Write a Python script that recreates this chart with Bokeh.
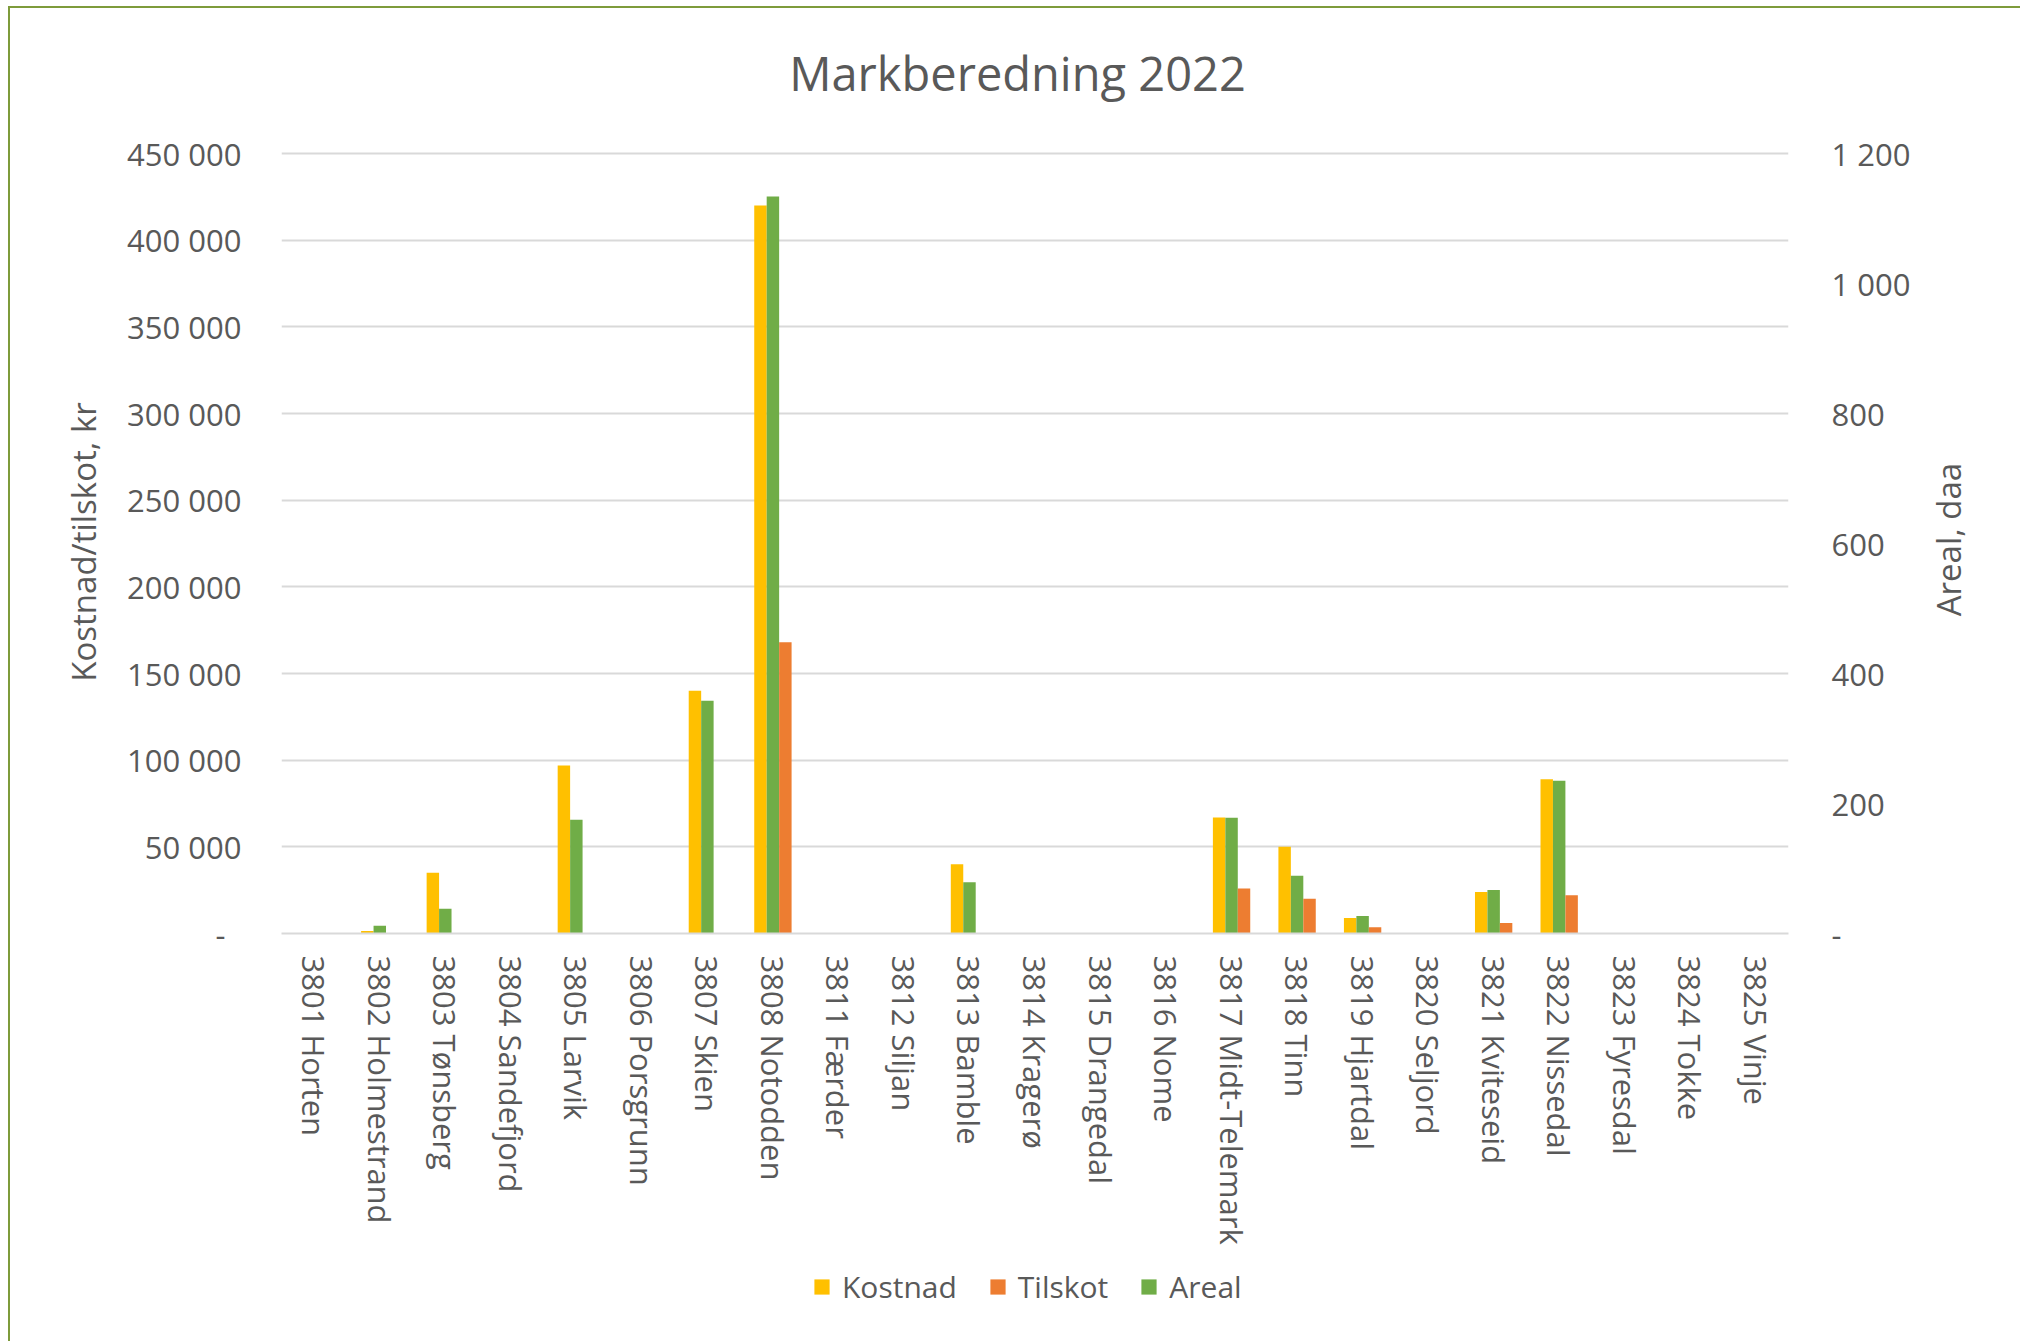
import math
from bokeh.plotting import figure
from bokeh.layouts import column
from bokeh.models import (Range1d, FactorRange, LinearAxis, FixedTicker, Legend,
                          LegendItem, ColumnDataSource, Label)
from bokeh.transform import dodge
from bokeh.embed import file_html
from bokeh.resources import INLINE

# ---------------- data ----------------
kommunar = ["3801 Horten", "3802 Holmestrand", "3803 Tønsberg", "3804 Sandefjord",
            "3805 Larvik", "3806 Porsgrunn", "3807 Skien", "3808 Notodden",
            "3811 Færder", "3812 Siljan", "3813 Bamble", "3814 Kragerø",
            "3815 Drangedal", "3816 Nome", "3817 Midt-Telemark", "3818 Tinn",
            "3819 Hjartdal", "3820 Seljord", "3821 Kviteseid", "3822 Nissedal",
            "3823 Fyresdal", "3824 Tokke", "3825 Vinje"]
kostnad = [0, 1500, 35000, 0, 97000, 0, 140000, 420000, 0, 0, 40000, 0,
           0, 0, 67000, 50000, 9000, 0, 24000, 89000, 0, 0, 0]
tilskot = [0, 0, 0, 0, 0, 0, 0, 168000, 0, 0, 0, 0,
           0, 0, 26000, 20000, 3600, 0, 6000, 22000, 0, 0, 0]
areal = [0, 12, 38, 0, 175, 0, 358, 1134, 0, 0, 79, 0,
         0, 0, 178, 89, 27, 0, 67, 235, 0, 0, 0]

left_ticks = [0, 50000, 100000, 150000, 200000, 250000, 300000, 350000, 400000, 450000]
left_tick_labels = ["-\u00a0\u00a0", "50 000", "100 000", "150 000", "200 000", "250 000",
                    "300 000", "350 000", "400 000", "450 000"]
right_ticks = [0, 200, 400, 600, 800, 1000, 1200]
right_tick_labels = ["-", "200", "400", "600", "800", "1 000", "1 200"]

series_names = ["Kostnad", "Tilskot", "Areal"]
title_text = "Markberedning 2022"
left_label = "Kostnad/tilskot, kr"
right_label = "Areal, daa"

# ---------------- style ----------------
FONT = "Open Sans"
TXT = "#595959"
GRID = "#d9d9d9"
YELLOW, ORANGE, GREEN = "#FFC000", "#ED7D31", "#70AD47"
WIDTH = 2010
HEADROOM = 1.004   # tiny room so the top gridline is not clipped by the frame edge


def strip(height):
    """A plain strip (no axes) whose frame fills the strip vertically."""
    s = figure(width=WIDTH, height=height, output_backend="svg", toolbar_location=None,
               x_axis_type=None, y_axis_type=None, x_range=Range1d(0, 1),
               y_range=Range1d(0, 1), min_border=0, title=None)
    s.outline_line_color = None
    s.grid.visible = False
    s.background_fill_color = "white"
    s.border_fill_color = "white"
    return s


# ---------------- title strip ----------------
top = strip(120)
top.add_layout(Label(x=736, y=56, x_units="screen", y_units="screen", text=title_text,
                     text_font=FONT, text_font_size="47px", text_color=TXT,
                     text_align="center", text_baseline="alphabetic"))

# ---------------- main chart ----------------
src = ColumnDataSource(dict(kommune=kommunar, kostnad=kostnad, tilskot=tilskot, areal=areal))

p = figure(x_range=FactorRange(factors=kommunar, range_padding=0),
           y_range=Range1d(0, left_ticks[-1] * HEADROOM), title=None,
           width=WIDTH, height=1125, output_backend="svg", toolbar_location=None,
           min_border_left=271, min_border_right=232, min_border_top=22,
           min_border_bottom=320)
p.extra_y_ranges = {"areal": Range1d(0, right_ticks[-1] * HEADROOM)}
p.outline_line_color = None
p.background_fill_color = "white"
p.border_fill_color = "white"

W = 0.19
r1 = p.vbar(x=dodge("kommune", -W, range=p.x_range), top="kostnad", width=W,
            source=src, fill_color=YELLOW, line_color=None)
r3 = p.vbar(x=dodge("kommune", 0.0, range=p.x_range), top="areal", width=W,
            source=src, fill_color=GREEN, line_color=None, y_range_name="areal")
r2 = p.vbar(x=dodge("kommune", W, range=p.x_range), top="tilskot", width=W,
            source=src, fill_color=ORANGE, line_color=None)

# grid
p.xgrid.grid_line_color = None
p.ygrid.ticker = FixedTicker(ticks=left_ticks)
p.ygrid.grid_line_color = GRID
p.ygrid.grid_line_width = 2

# left axis
ya = p.yaxis[0]
ya.ticker = FixedTicker(ticks=left_ticks)
ya.major_label_overrides = dict(zip(left_ticks, left_tick_labels))
ya.axis_line_color = None
ya.major_tick_line_color = None
ya.minor_tick_line_color = None
ya.major_tick_out = 0
ya.major_tick_in = 0
ya.major_label_standoff = 40
ya.major_label_text_font = FONT
ya.major_label_text_font_size = "31px"
ya.major_label_text_color = TXT
ya.axis_label = left_label
ya.axis_label_standoff = 18
ya.axis_label_text_font = FONT
ya.axis_label_text_font_size = "33px"
ya.axis_label_text_font_style = "normal"
ya.axis_label_text_color = TXT

# right axis
ra = LinearAxis(y_range_name="areal", ticker=FixedTicker(ticks=right_ticks))
ra.major_label_overrides = dict(zip(right_ticks, right_tick_labels))
ra.axis_line_color = None
ra.major_tick_line_color = None
ra.minor_tick_line_color = None
ra.major_tick_out = 0
ra.major_tick_in = 0
ra.major_label_standoff = 43
ra.major_label_text_font = FONT
ra.major_label_text_font_size = "31px"
ra.major_label_text_color = TXT
ra.axis_label_standoff = 35
ra.axis_label_text_font = FONT
ra.axis_label_text_font_size = "33px"
ra.axis_label_text_font_style = "normal"
ra.axis_label_text_color = TXT
if hasattr(ra, "axis_label_align") and hasattr(ra, "axis_label_orientation"):
    # read bottom-to-top like the reference; anchor at the axis start and
    # pad with no-break spaces so the visible words sit at the middle
    ra.axis_label_orientation = math.pi / 2
    ra.axis_label_align = "start"
    ra.axis_label = "\u00a0" * 37 + right_label
else:
    ra.axis_label = right_label
p.add_layout(ra, "right")

# x axis
xa = p.xaxis[0]
xa.major_label_orientation = "vertical"
xa.major_label_standoff = 22
xa.major_tick_line_color = None
xa.minor_tick_line_color = None
xa.major_tick_out = 0
xa.major_tick_in = 0
xa.axis_line_color = GRID
xa.axis_line_width = 2
xa.major_label_text_font = FONT
xa.major_label_text_font_size = "31px"
xa.major_label_text_color = TXT

# ---------------- legend strip under the chart ----------------
leg = strip(88)
stub_colors = [YELLOW, ORANGE, GREEN]
# zero-height swatch renderers, only used to paint the legend squares
stubs = [leg.vbar(x=[0.5], top=[0], bottom=[0], width=0.001, fill_color=c, line_color=None)
         for c in stub_colors]
legend = Legend(items=[LegendItem(label=n, renderers=[s]) for n, s in zip(series_names, stubs)],
                location=(531, 34), orientation="horizontal",
                glyph_width=19, glyph_height=19, label_standoff=11, spacing=31,
                padding=0, margin=0, border_line_color=None,
                background_fill_alpha=0, label_text_font=FONT,
                label_text_font_size="30px", label_text_color=TXT)
leg.add_layout(legend)

layout = column(top, p, leg, spacing=0)
layout.styles = {"margin-left": "8px", "margin-top": "6px",
                 "border-left": "2px solid #7E9B3B", "border-top": "2px solid #7E9B3B"}

open("out.html", "w").write(file_html(layout, INLINE))
